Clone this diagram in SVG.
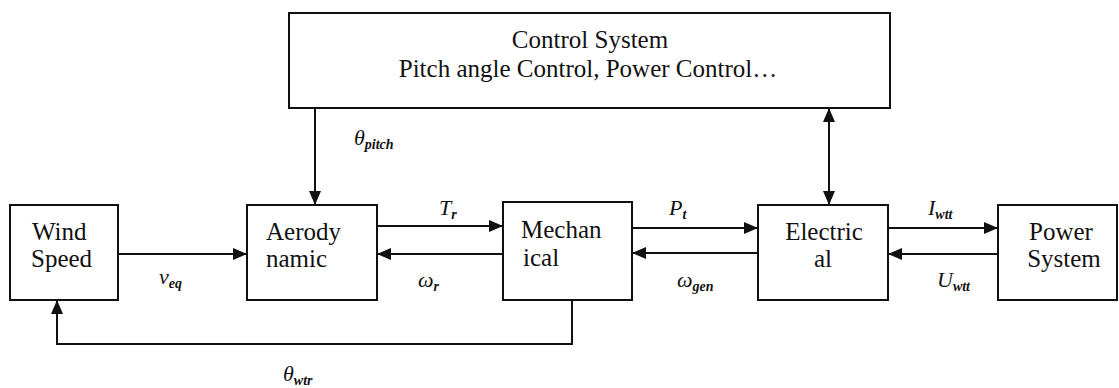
<svg xmlns="http://www.w3.org/2000/svg" width="1119" height="388" viewBox="0 0 1119 388">
<style>
.box{fill:#fff;stroke:#111;stroke-width:2}
.lbl{font-family:'Liberation Serif','DejaVu Serif',serif;font-size:25px;fill:#111}
.mid{text-anchor:middle}
.math{font-family:'Liberation Serif','DejaVu Serif',serif;font-style:italic;font-size:22px;fill:#111}
.sub{font-size:14px;font-weight:bold}
.conn{fill:none;stroke:#111;stroke-width:2}
</style>
<defs>
<marker id="ah" markerUnits="userSpaceOnUse" markerWidth="15" markerHeight="13" refX="14" refY="6" orient="auto-start-reverse">
<path d="M0,0 L14,6 L0,12 z" fill="#111"/>
</marker>
</defs>
<rect width="1119" height="388" fill="#fff"/>
<g id="connectors">
<path class="conn" d="M315,108 V205" marker-end="url(#ah)"/>
<path class="conn" d="M829,108 V205" marker-start="url(#ah)" marker-end="url(#ah)"/>
<path class="conn" d="M118,254 H247" marker-end="url(#ah)"/>
<path class="conn" d="M374,226 H503" marker-end="url(#ah)"/>
<path class="conn" d="M503,254 H377" marker-end="url(#ah)"/>
<path class="conn" d="M632,228 H758" marker-end="url(#ah)"/>
<path class="conn" d="M758,253 H632" marker-end="url(#ah)"/>
<path class="conn" d="M888,228 H998" marker-end="url(#ah)"/>
<path class="conn" d="M998,254 H888" marker-end="url(#ah)"/>
<path class="conn" d="M572,300 V344 H57 V300" marker-end="url(#ah)"/>
<text class="math" x="354" y="145">θ<tspan class="sub" dy="4">pitch</tspan></text>
<text class="math" x="159" y="284">v<tspan class="sub" dy="4">eq</tspan></text>
<text class="math" x="439" y="215">T<tspan class="sub" dy="4">r</tspan></text>
<text class="math" x="418" y="287">ω<tspan class="sub" dy="4">r</tspan></text>
<text class="math" x="669" y="215">P<tspan class="sub" dy="4">t</tspan></text>
<text class="math" x="677" y="287">ω<tspan class="sub" dy="4">gen</tspan></text>
<text class="math" x="928" y="215">I<tspan class="sub" dy="4">wtt</tspan></text>
<text class="math" x="937" y="287">U<tspan class="sub" dy="4">wtt</tspan></text>
<text class="math" x="283" y="381">θ<tspan class="sub" dy="4">wtr</tspan></text>
</g>
<g id="control">
<rect class="box" x="289" y="13" width="601" height="95"/>
<text class="lbl mid" x="590" y="48">Control System</text>
<text class="lbl mid" x="588" y="77">Pitch angle Control, Power Control…</text>
</g>
<g id="wind">
<rect class="box" x="10" y="205" width="108" height="95"/>
<text class="lbl" x="32" y="240">Wind</text>
<text class="lbl" x="31" y="267">Speed</text>
</g>
<g id="aero">
<rect class="box" x="247" y="205" width="130" height="95"/>
<text class="lbl" x="266" y="240">Aerody</text>
<text class="lbl" x="266" y="267">namic</text>
</g>
<g id="mech">
<rect class="box" x="503" y="202" width="129" height="98"/>
<text class="lbl" x="521" y="238">Mechan</text>
<text class="lbl" x="523" y="266">ical</text>
</g>
<g id="elec">
<rect class="box" x="758" y="205" width="130" height="95"/>
<text class="lbl mid" x="824" y="240">Electric</text>
<text class="lbl mid" x="823" y="267">al</text>
</g>
<g id="power">
<rect class="box" x="998" y="205" width="119" height="95"/>
<text class="lbl mid" x="1061" y="240">Power</text>
<text class="lbl mid" x="1064" y="267">System</text>
</g>
</svg>
